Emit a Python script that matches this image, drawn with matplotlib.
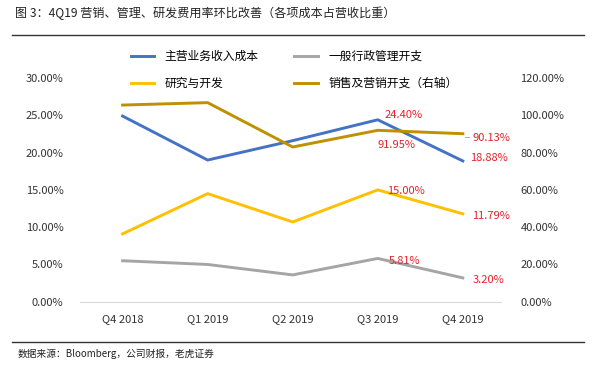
import matplotlib
matplotlib.use("Agg")
import matplotlib.pyplot as plt
from matplotlib.ticker import FuncFormatter

plt.rcParams['font.family'] = ['Noto Sans CJK SC', 'DejaVu Sans']

quarters = ["Q4 2018", "Q1 2019", "Q2 2019", "Q3 2019", "Q4 2019"]
cost = [24.9, 19.0, 21.6, 24.40, 18.88]
admin = [5.5, 5.0, 3.6, 5.81, 3.20]
rnd = [9.1, 14.5, 10.7, 15.00, 11.79]
sales = [105.5, 106.8, 83.0, 91.95, 90.13]

c_blue = "#4472C4"
c_gray = "#A5A5A5"
c_yellow = "#FFC000"
c_gold = "#BF9000"
c_red = "#E8202A"

fig = plt.figure(figsize=(5.93, 3.68), dpi=100)
ax = fig.add_axes([0.135, 0.18, 0.71, 0.608])
ax2 = ax.twinx()

x = range(len(quarters))
l1, = ax.plot(x, cost, color=c_blue, lw=2.1, label="主营业务收入成本")
l2, = ax.plot(x, admin, color=c_gray, lw=2.1, label="一般行政管理开支")
l3, = ax.plot(x, rnd, color=c_yellow, lw=2.1, label="研究与开发")
l4, = ax2.plot(x, sales, color=c_gold, lw=2.1, label="销售及营销开支（右轴）")

ax.set_ylim(0, 30)
ax2.set_ylim(0, 120)
ax.set_yticks([0, 5, 10, 15, 20, 25, 30])
ax2.set_yticks([0, 20, 40, 60, 80, 100, 120])
ax.yaxis.set_major_formatter(FuncFormatter(lambda v, p: f"{v:.2f}%"))
ax2.yaxis.set_major_formatter(FuncFormatter(lambda v, p: f"{v:.2f}%"))
ax.set_xlim(-0.5, 4.45)
ax.set_xticks(list(x))
ax.set_xticklabels(quarters)

for a in (ax, ax2):
    for s in a.spines.values():
        s.set_visible(False)
    a.tick_params(length=0, labelsize=8, colors="#333333")
ax.spines['bottom'].set_visible(True)
ax.spines['bottom'].set_color("#D9D9D9")
ax.tick_params(axis='x', pad=9)
ax.tick_params(axis='y', pad=12)
ax2.tick_params(axis='y', pad=14)

lab = dict(color=c_red, fontsize=8, textcoords="offset points")
ax.annotate(f"{cost[3]:.2f}%", (3, cost[3]), xytext=(5, 1), **lab)
ax.annotate(f"{cost[4]:.2f}%", (4, cost[4]), xytext=(5, 0), **lab)
ax.annotate(f"{rnd[3]:.2f}%", (3, rnd[3]), xytext=(7, -3), **lab)
ax.annotate(f"{rnd[4]:.2f}%", (4, rnd[4]), xytext=(7, -4), **lab)
ax.annotate(f"{admin[3]:.2f}%", (3, admin[3]), xytext=(8, -4), **lab)
ax.annotate(f"{admin[4]:.2f}%", (4, admin[4]), xytext=(7, -4), **lab)
ax2.annotate(f"{sales[3]:.2f}%", (3, sales[3]), xytext=(0, -13), **lab)
ax2.annotate(f"{sales[4]:.2f}%", (4, sales[4]), xytext=(7, -5), **lab)
ax2.plot([4.02, 4.07], [sales[4] - 1.5, sales[4] - 1.5], color="#999999", lw=0.6)

fig.legend(handles=[l1, l3, l2, l4], ncol=2, loc="center", bbox_to_anchor=(0.496, 0.81),
           frameon=False, fontsize=8.5, handlelength=2.0, handletextpad=0.9,
           columnspacing=3.0, labelspacing=1.15)

fig.text(0.025, 0.965, "图 3：4Q19 营销、管理、研发费用率环比改善（各项成本占营收比重）",
         fontsize=8.7, color="#222222", va="center")
fig.add_artist(plt.Line2D([0.02, 0.985], [0.905, 0.905], color="#333333", lw=1))
fig.add_artist(plt.Line2D([0.02, 0.985], [0.072, 0.072], color="#333333", lw=1))
fig.text(0.03, 0.038, "数据来源：Bloomberg，公司财报，老虎证券", fontsize=7, color="#222222", va="center")

fig.savefig("out.png", dpi=100)
